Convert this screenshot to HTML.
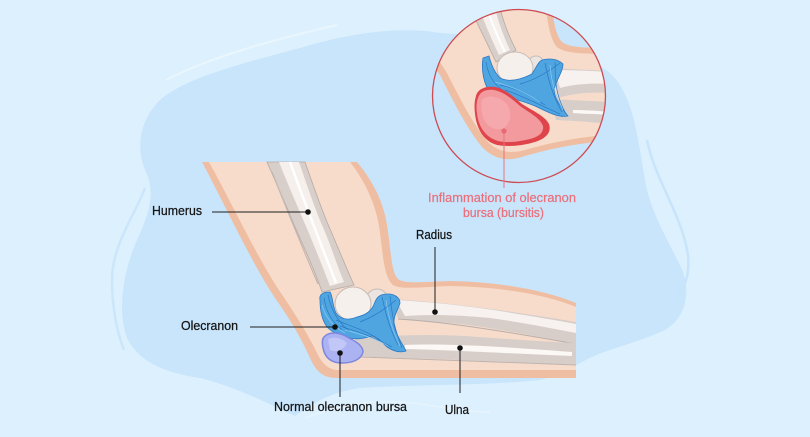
<!DOCTYPE html>
<html><head><meta charset="utf-8"><style>
html,body{margin:0;padding:0;background:#ddf0fd;}
svg{display:block;}
text{font-family:"Liberation Sans",Arial,sans-serif;}
</style></head><body>
<svg width="810" height="437" viewBox="0 0 810 437" xmlns="http://www.w3.org/2000/svg">
<defs>
<clipPath id="cc"><circle cx="519" cy="96" r="86.5"/></clipPath>
</defs>
<rect width="810" height="437" fill="#ddf0fd"/>
<!-- blob -->
<path d="M440,33 C400,26 350,33 300,48 C240,64 185,78 160,100 C138,122 136,150 146,172 C155,192 150,212 138,238 C122,272 117,315 128,340 C140,362 165,373 200,378 C240,388 270,405 295,416 C310,405 330,392 360,388 C420,384 480,386 540,380 C560,375 575,365 590,358 C610,348 640,342 665,330 C690,315 690,285 680,265 C665,235 650,210 645,180 C638,140 635,110 620,85 C605,60 560,40 440,33 Z" fill="#c8e5fb"/>
<!-- highlight strokes -->
<path d="M166,80 C215,55 280,38 337,25" fill="none" stroke="#e9f6fe" stroke-width="2"/>
<path d="M145,188 C135,215 112,245 112,280 C112,310 118,335 124,350" fill="none" stroke="#cbe6fb" stroke-width="2.5"/>
<path d="M647,140 C655,180 682,215 688,255 C690,275 684,290 677,297" fill="none" stroke="#c8e4fb" stroke-width="2.5"/>
<path d="M305,418 C340,405 370,400 400,402 C430,404 460,412 490,412" fill="none" stroke="#e6f4fe" stroke-width="1.5"/>

<!-- ===== MAIN ARM ===== -->
<path d="M202,162 L357,162 C372,180 383,200 387,225 C391,250 391,272 398,279 C405,284 420,282 450,281 C500,282 545,290 576,303 L576,378 L336,378 C324,378 316,372 310,358 C302,340 292,322 275,298 C250,260 225,205 202,162 Z" fill="#efbea2"/>
<path d="M209,162 L350,162 C364,180 375,202 379,226 C383,252 383,276 393,285 C402,290 420,287 450,286 C500,287 545,294 576,307 L576,370 L338,370 C330,370 323,365 318,355 C310,338 299,320 283,296 C258,260 233,205 209,162 Z" fill="#f7dccc"/>

<!-- radius -->
<path d="M393,299 C440,302 500,309 576,322 L576,344 C540,337 500,329 460,324 C430,321 410,322 398,318 Z" fill="#d8cec9"/>
<path d="M396,300 C430,302 460,305 500,311 C530,316 555,320 576,324 L576,333 C550,328 520,322 490,318 C460,315 430,314 405,316 Z" fill="#f7f2ef"/>
<path d="M398,319 C430,321 470,325 576,344" fill="none" stroke="#b9aea8" stroke-width="1"/>
<!-- ulna -->
<path d="M355,339 C400,334 440,334 480,337 C520,340 550,342 576,343 L576,365 C540,363 500,362 460,360 C420,358 380,358 355,356 Z" fill="#d8cec9"/>
<path d="M405,345 C450,343 520,348 572,352 L572,356 C520,354 450,350 405,349 Z" fill="#fbf8f6"/>
<path d="M360,357 C420,359 500,362 576,365" fill="none" stroke="#bfb4ae" stroke-width="1"/>

<!-- humerus -->
<path d="M267,162 L305,162 C313,185 320,205 327,222 C337,245 345,265 354,285 L322,292 C312,262 298,236 288,210 C280,192 273,176 267,162 Z" fill="#d9cfca" stroke="#b5aaa4" stroke-width="0.8"/>
<path d="M279,162 L299,162 C307,185 315,210 325,232 C333,252 338,268 344,282 L330,286 C322,265 312,240 302,217 C294,198 286,180 279,162 Z" fill="#f6f0ed"/>
<path d="M290,162 C300,190 316,232 336,283" fill="none" stroke="#ffffff" stroke-width="2.5"/>
<path d="M272,172 C285,205 300,242 318,284" fill="none" stroke="#c2b7b1" stroke-width="1.2"/>
<circle cx="377" cy="300" r="11" fill="#ece4e0" stroke="#c6bbb5" stroke-width="1"/>
<ellipse cx="353" cy="304" rx="18" ry="17" fill="#f6f0ed" stroke="#c6bbb5" stroke-width="1"/>

<!-- ligament main -->
<path d="M320,300 C319,295 322,292 330,292 C333,296 332,305 336,313 C340,319 348,321 357,317 C366,315 372,311 375,302 C377,297 380,294 388,294 C395,294 400,298 400,303 C398,310 393,316 394,325 C396,335 402,343 406,351 C400,353 393,351 387,347 C382,342 378,338 372,336 C365,338 358,340 350,338 C342,336 334,334 327,327 C322,320 320,310 320,300 Z" fill="#4fa5e0" stroke="#2a78c5" stroke-width="0.8"/>
<g fill="none" stroke="#2a78c5" stroke-width="0.7">
<path d="M324,298 C326,312 332,322 342,330"/>
<path d="M328,295 C331,310 338,322 350,332"/>
<path d="M336,320 C350,326 365,330 380,340"/>
<path d="M340,326 C355,331 370,335 392,347"/>
<path d="M382,297 C385,310 388,325 398,345"/>
<path d="M390,296 C392,310 392,322 402,348"/>
<path d="M360,322 C370,318 382,312 396,300"/>
</g>
<g fill="none" stroke="#8ccaf1" stroke-width="0.7">
<path d="M322,305 C325,316 332,326 345,333"/>
<path d="M345,330 C360,334 375,338 388,346"/>
<path d="M386,300 C388,315 392,330 400,346"/>
</g>
<!-- normal bursa -->
<path d="M324,337 C329,331 340,332 349,338 C357,342 363,346 363,352 C361,360 352,363 342,363 C331,363 325,358 323,348 C322,343 322,339 324,337 Z" fill="#abb3f2" stroke="#7c86df" stroke-width="1.5"/>
<path d="M328,339 C334,336 342,338 347,343 C344,350 336,353 330,350 Z" fill="#c1c7f6"/>

<!-- ===== CIRCLE ===== -->
<g clip-path="url(#cc)">
<rect x="420" y="0" width="200" height="190" fill="#c8e5fb"/>
<path d="M420,0 L551,0 C553,18 555,33 561,41 C568,48 585,48 620,48 L620,140 C580,142 545,150 525,156 C508,162 495,160 482,147 C468,130 455,105 440,75 L420,45 Z" fill="#efbea2"/>
<path d="M420,0 L545,0 C547,18 549,36 556,46 C563,54 585,54 620,54 L620,134 C580,136 545,144 525,150 C510,154 498,152 488,142 C475,127 462,103 447,73 L426,40 Z" fill="#f7dccc"/>
<!-- radius -->
<path d="M552,68 C570,69 590,70 612,71 L612,93 C590,92 575,93 558,98 Z" fill="#d8cec9"/>
<path d="M555,70 C570,70 590,71 612,72 L612,84 C590,83 575,84 560,88 Z" fill="#f7f2ef"/>
<!-- ulna -->
<path d="M552,99 C570,100 590,101 612,102 L612,124 C590,122 575,121 556,120 Z" fill="#d8cec9"/>
<path d="M573,110 C585,110 600,111 612,112 L612,115 C600,114 585,114 573,113 Z" fill="#fbf8f6"/>
<!-- humerus -->
<path d="M466,0 L498,0 C502,18 507,33 516,50 L496,62 C488,45 478,25 466,0 Z" fill="#d9cfca" stroke="#b5aaa4" stroke-width="0.8"/>
<path d="M476,0 L493,0 C497,18 502,33 510,50 L499,55 C492,40 484,22 476,0 Z" fill="#f6f0ed"/>
<path d="M484,0 C490,18 496,34 505,52" fill="none" stroke="#fff" stroke-width="2"/>
<circle cx="536" cy="64" r="8" fill="#ece4e0" stroke="#c6bbb5" stroke-width="1"/>
<ellipse cx="515" cy="68" rx="18" ry="16" fill="#f6f0ed" stroke="#c6bbb5" stroke-width="1"/>
<!-- ligament -->
<path d="M483,58 L489,56 C491,64 494,72 500,78 C510,83 522,79 532,74 C536,68 538,62 542,60 C550,58 558,59 563,64 C563,72 556,80 554,90 C555,100 562,108 568,116 C558,118 548,112 535,106 C520,100 505,96 490,92 C484,85 481,70 483,58 Z" fill="#4fa5e0" stroke="#2a78c5" stroke-width="0.8"/>
<g fill="none" stroke="#2a78c5" stroke-width="0.7">
<path d="M486,62 C488,75 494,85 505,92"/>
<path d="M500,85 C515,88 530,95 545,105"/>
<path d="M505,90 C520,95 540,105 560,114"/>
<path d="M545,63 C548,78 552,95 562,112"/>
<path d="M555,62 C556,75 553,90 566,114"/>
<path d="M520,84 C535,80 548,72 560,63"/>
</g>
<g fill="none" stroke="#8ccaf1" stroke-width="0.7">
<path d="M495,82 C510,86 525,92 540,102"/>
<path d="M550,65 C551,80 555,95 563,110"/>
</g>
<!-- inflamed bursa -->
<path d="M476,96 C478,88 487,86 495,87 C505,89 513,96 522,104 C533,111 545,116 549,124 C552,133 545,139 535,142 C522,146 508,147 497,145 C486,142 479,133 476,120 C474,110 474,102 476,96 Z" fill="#e0444b"/>
<path d="M478,98 C480,91 487,89 494,90 C504,92 512,99 520,106 C530,113 540,118 543,126 C544,133 538,137 530,139 C518,142 507,143 498,141 C488,138 481,131 478,119 C476,110 476,103 478,98 Z" fill="#f39a9f"/>
<path d="M482,100 C488,94 498,96 506,103 C512,110 512,122 504,128 C495,132 486,126 483,117 C481,110 481,104 482,100 Z" fill="#f6adb0" opacity="0.8"/>
</g>
<circle cx="519" cy="96" r="86.5" fill="none" stroke="#cd4a52" stroke-width="1.3"/>

<!-- pink leader -->
<line x1="504" y1="131" x2="504" y2="188" stroke="#e8727c" stroke-width="1"/>
<circle cx="504" cy="131" r="2.6" fill="#e66b76"/>
<g fill="#ec6e79" stroke="#ec6e79" stroke-width="0.2">
<text x="428" y="202" font-size="13" textLength="148" lengthAdjust="spacingAndGlyphs">Inflammation of olecranon</text>
<text x="463" y="217" font-size="13" textLength="81" lengthAdjust="spacingAndGlyphs">bursa (bursitis)</text>
</g>

<!-- black leaders -->
<g stroke="#1e1e1e" stroke-width="1">
<line x1="212" y1="212" x2="308" y2="212"/>
<line x1="250" y1="327" x2="335" y2="327"/>
<line x1="435" y1="247" x2="435" y2="312"/>
<line x1="340" y1="353" x2="340" y2="397"/>
<line x1="460" y1="348" x2="460" y2="393"/>
</g>
<g fill="#111">
<circle cx="308" cy="212" r="2.8"/>
<circle cx="335" cy="327" r="2.8"/>
<circle cx="435" cy="312" r="2.8"/>
<circle cx="340" cy="353" r="2.8"/>
<circle cx="460" cy="348" r="2.8"/>
</g>
<g font-size="12.5" fill="#151515" stroke="#151515" stroke-width="0.25">
<text x="152" y="215" textLength="50" lengthAdjust="spacingAndGlyphs">Humerus</text>
<text x="416" y="239" textLength="36" lengthAdjust="spacingAndGlyphs">Radius</text>
<text x="181" y="330" textLength="57" lengthAdjust="spacingAndGlyphs">Olecranon</text>
<text x="274" y="411" textLength="133" lengthAdjust="spacingAndGlyphs">Normal olecranon bursa</text>
<text x="445" y="414" textLength="24" lengthAdjust="spacingAndGlyphs">Ulna</text>
</g>
</svg>
</body></html>
